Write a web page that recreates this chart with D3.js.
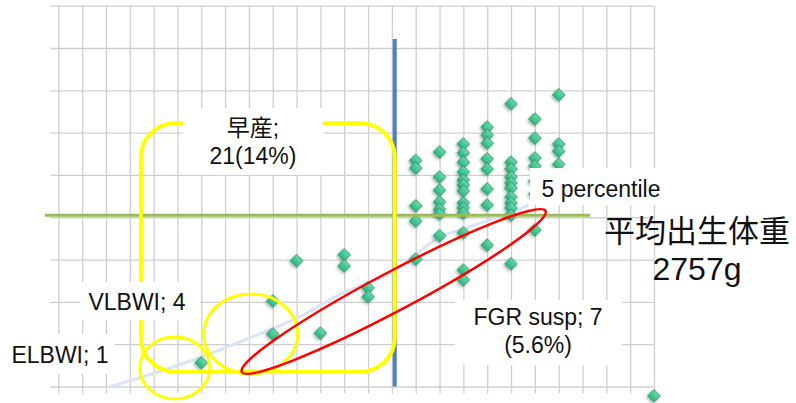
<!DOCTYPE html>
<html>
<head>
<meta charset="utf-8">
<script src="https://cdn.jsdelivr.net/npm/d3@7"></script>
<style>
  html, body { margin: 0; padding: 0; background: #fff; }
  svg { display: block; font-family: "Liberation Sans", Arial, "Noto Sans CJK JP", sans-serif; }
</style>
</head>
<body>
<svg id="chart" width="796" height="403"></svg>
<script>
// grid units: x = columns (0..25), y = rows (0..9)
const xTicks = d3.range(0, 26);
const yTicks = d3.range(0, 10);

// scatter points [col, row]
const points = [
  [6, 0.56], [9, 2.02], [9, 1.24], [10, 2.97], [11, 1.26], [12, 3.11], [12, 2.85],
  [13, 2.33], [13, 2.12], [25, -0.22],
  [15, 5.34], [15, 5.16], [15, 4.27], [15, 3.91], [15, 3.01],
  [16, 5.54], [16, 4.95], [16, 4.64], [16, 4.36], [16, 4.19], [16, 4.08], [16, 3.56],
  [17, 5.73], [17, 5.52], [17, 5.30], [17, 5.07], [17, 4.88], [17, 4.76], [17, 4.62],
  [17, 4.34], [17, 4.22], [17, 4.10], [17, 3.63], [17, 2.75], [17, 2.52],
  [18, 6.13], [18, 5.94], [18, 5.75], [18, 5.38], [18, 5.14], [18, 4.67], [18, 4.29], [18, 3.34],
  [19, 6.68], [19, 5.30], [19, 5.14], [19, 4.95], [19, 4.81], [19, 4.69], [19, 4.48],
  [19, 4.34], [19, 4.22], [19, 4.05], [19, 2.90],
  [20, 6.32], [20, 5.87], [20, 5.40], [20, 5.21], [20, 4.85], [20, 4.55], [20, 3.70],
  [21, 6.89], [21, 5.73], [21, 5.56], [21, 5.25], [21, 4.90]
];

// 5 percentile curve
const pctCurve = [
  [2.17, 0.0], [3.56, 0.23], [4.96, 0.49], [6.01, 0.70], [8.04, 1.15], [10.14, 1.65],
  [11.52, 2.09], [12.93, 2.44], [14.03, 2.71], [14.87, 3.06], [16.0, 3.53],
  [16.97, 3.72], [18.94, 4.10], [19.74, 4.29]
];

const meanWeightRow = 4.05;   // 平均出生体重 2757g
const pretermCol = 14.12;     // 早産 boundary

const width = 796, height = 403;
const svg = d3.select("#chart");

const x = d3.scaleLinear().domain([0, 25]).range([58.3, 654]);
const y = d3.scaleLinear().domain([0, 9]).range([386.5, 5.7]);

const defs = svg.append("defs");
const grad = defs.append("linearGradient").attr("id", "dgrad")
  .attr("x1", 0).attr("y1", 0).attr("x2", 0).attr("y2", 1);
grad.append("stop").attr("offset", "0%").attr("stop-color", "#63dcab");
grad.append("stop").attr("offset", "100%").attr("stop-color", "#2fb27e");
const f = defs.append("filter").attr("id", "shadow")
  .attr("x", "-50%").attr("y", "-50%").attr("width", "200%").attr("height", "200%");
f.append("feDropShadow").attr("dx", 0).attr("dy", 2).attr("stdDeviation", 1.6)
  .attr("flood-color", "#000").attr("flood-opacity", 0.3);

// grid
const grid = svg.append("g");
grid.append("g")
  .attr("transform", `translate(0,${y(0)})`)
  .call(d3.axisBottom(x).tickValues(xTicks).tickSize(y(9) - y(0)).tickFormat(""))
  .call(g => g.select(".domain").remove())
  .call(g => g.selectAll("line").attr("y1", 7).attr("stroke", "#cfcfcf").attr("stroke-width", 1.3));
grid.append("g")
  .attr("transform", `translate(${x(0)},0)`)
  .call(d3.axisLeft(y).tickValues(yTicks).tickSize(x(0) - x(25)).tickFormat(""))
  .call(g => g.select(".domain").remove())
  .call(g => g.selectAll("line").attr("x1", -8).attr("stroke", "#cfcfcf").attr("stroke-width", 1.3));

// percentile line
const line = d3.line().x(d => x(d[0])).y(d => y(d[1])).curve(d3.curveCatmullRom);
svg.append("path")
  .datum(pctCurve)
  .attr("d", line)
  .attr("fill", "none")
  .attr("stroke", "#dbe4f0")
  .attr("stroke-width", 3);

// diamonds
svg.append("g").selectAll("path")
  .data(points)
  .join("path")
  .attr("d", d3.symbol(d3.symbolSquare, 78))
  .attr("transform", d => `translate(${x(d[0])},${y(d[1])}) rotate(45)`)
  .attr("fill", "url(#dgrad)")
  .attr("stroke", "#2a9c6e")
  .attr("stroke-width", 0.8)
  .attr("filter", "url(#shadow)");

// mean weight line
svg.append("line")
  .attr("x1", 45).attr("x2", 590)
  .attr("y1", y(meanWeightRow)).attr("y2", y(meanWeightRow))
  .attr("stroke", "#9bbb59").attr("stroke-width", 3);

// preterm boundary
svg.append("line")
  .attr("x1", x(pretermCol)).attr("x2", x(pretermCol))
  .attr("y1", 39).attr("y2", y(0))
  .attr("stroke", "#4f81bd").attr("stroke-width", 4);

// yellow annotation shapes
const yellow = "#ffff00";
svg.append("rect")
  .attr("x", x(3.47)).attr("y", y(6.22))
  .attr("width", x(14.12) - x(3.47)).attr("height", y(0.35) - y(6.22))
  .attr("rx", 34).attr("ry", 34)
  .attr("fill", "none").attr("stroke", yellow).attr("stroke-width", 4);
svg.append("ellipse")
  .attr("cx", x(4.89)).attr("cy", y(0.44)).attr("rx", 35).attr("ry", 31)
  .attr("fill", "none").attr("stroke", yellow).attr("stroke-width", 3);
svg.append("ellipse")
  .attr("cx", x(8.08)).attr("cy", y(1.24)).attr("rx", 47).attr("ry", 40)
  .attr("fill", "none").attr("stroke", yellow).attr("stroke-width", 3);

// red FGR ellipse
const t1 = [x(7.70), y(0.343)], t2 = [x(20.45), y(4.148)];
const cx = (t1[0] + t2[0]) / 2, cy = (t1[1] + t2[1]) / 2;
const len = Math.hypot(t2[0] - t1[0], t2[1] - t1[1]);
const ang = Math.atan2(t2[1] - t1[1], t2[0] - t1[0]) * 180 / Math.PI;
svg.append("ellipse")
  .attr("transform", `translate(${cx},${cy}) rotate(${ang})`)
  .attr("rx", len / 2).attr("ry", 19.5)
  .attr("fill", "none").attr("stroke", "#ff0000").attr("stroke-width", 2.5);

// labels
const labels = [
  { lines: ["早産;", "21(14%)"], x: 253, y: 136, dy: 28, box: [183, 108, 140, 67] },
  { lines: ["5 percentile"], x: 601, y: 197, dy: 0, box: [530, 168, 135, 37] },
  { lines: ["FGR susp; 7", "(5.6%)"], x: 538, y: 325, dy: 28, box: [455, 300, 167, 65] },
  { lines: ["VLBWI; 4"], x: 137, y: 310, dy: 0, box: [80, 282, 120, 38] },
  { lines: ["ELBWI; 1"], x: 60, y: 363, dy: 0, box: [2, 334, 113, 40] }
];
const lg = svg.append("g");
labels.forEach(l => {
  lg.append("rect")
    .attr("x", l.box[0]).attr("y", l.box[1])
    .attr("width", l.box[2]).attr("height", l.box[3])
    .attr("fill", "#fff");
  l.lines.forEach((s, i) => {
    lg.append("text")
      .attr("x", l.x).attr("y", l.y + i * l.dy)
      .attr("text-anchor", "middle")
      .attr("fill", "#111")
      .style("font-size", "23px")
      .text(s);
  });
});

svg.append("text")
  .attr("x", 697).attr("y", 242)
  .attr("text-anchor", "middle")
  .attr("fill", "#111")
  .style("font-size", "31px")
  .style("font-family", "'Noto Sans CJK JP', sans-serif")
  .text("平均出生体重");
svg.append("text")
  .attr("x", 697).attr("y", 280)
  .attr("text-anchor", "middle")
  .attr("fill", "#111")
  .style("font-size", "32px")
  .text("2757g");
</script>
</body>
</html>
